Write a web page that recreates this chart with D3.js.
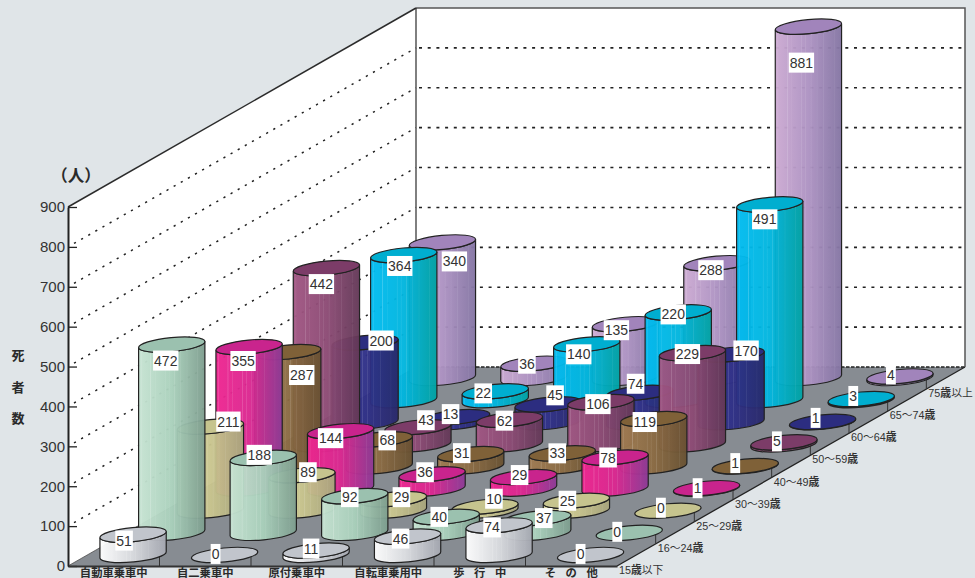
<!DOCTYPE html>
<html lang="ja"><head><meta charset="utf-8">
<script src="https://cdn.jsdelivr.net/npm/d3@7"></script>
<style>
html,body{margin:0;padding:0;background:#e0e5e8;overflow:hidden}
svg{display:block}
text{font-family:"Liberation Sans","Noto Sans CJK JP",sans-serif}
.cjk{font-family:"Noto Sans CJK JP",sans-serif;font-weight:700;fill:#2a2a2a}
.age{font-family:"Liberation Sans","Noto Sans CJK JP",sans-serif;fill:#333}
.age tspan{font-family:"Noto Sans CJK JP",sans-serif;font-weight:700}
</style></head><body>
<svg id="chart" width="975" height="578"></svg>
<script>
// ---- data ----
const categories = ["自動車乗車中","自二乗車中","原付乗車中","自転車乗用中","歩 行 中","そ の 他"];
const ageGroups = ["15歳以下","16\uFF5E24歳","25\uFF5E29歳","30\uFF5E39歳","40\uFF5E49歳","50\uFF5E59歳","60\uFF5E64歳","65\uFF5E74歳","75歳以上"];
const carOccupant   = [51,472,211,355,287,442,200,364,340];
const motorcycle    = [0,188,89,144,68,43,13,22,36];
const moped         = [11,92,29,36,31,62,45,140,135];
const bicycle       = [46,40,10,29,33,106,74,220,288];
const pedestrian    = [74,37,25,78,119,229,170,491,881];
const otherMode     = [0,0,0,1,1,5,1,3,4];
const valueTicks    = [0,100,200,300,400,500,600,700,800,900];
const seriesByCategory = [carOccupant,motorcycle,moped,bicycle,pedestrian,otherMode];

// ---- style: per age group [top, side-left, side-mid, side-right] ----
const palette = [
 ["#c1c5cc","#ffffff","#d9dbdf","#a4a7b0"],
 ["#9bc1af","#c6e3d2","#a9d0bb","#7d9d8e"],
 ["#c6c48e","#dcd9a2","#c9c58e","#a8a57c"],
 ["#c9248d","#ee2590","#db2790","#8c3a96"],
 ["#7f6138","#a07c52","#8b6b43","#685131"],
 ["#7c3c68","#a05582","#8c4a74","#633857"],
 ["#2c2d80","#32358c","#2f3088","#28286a"],
 ["#00aed0","#00bbf0","#00b5de","#00a2a2"],
 ["#a184bb","#ccaad2","#ad92c2","#8475a3"]
];
// label box offsets from each cylinder's top centre (dx,dy), by category then age group
const labelNudges = [
 [[-9,6],[-6,16],[18,-5],[-6,14],[14,23],[-5,16],[16,-2],[-4,11],[12,19]],
 [[-9,-1],[-4,-3],[6,-3],[-10,7],[8,1],[8,-7],[-6,-3],[-12,2],[-7,0]],
 [[-5,-2],[-5,1],[8,-2],[-7,-2],[-9,-1],[-5,1],[7,-9],[-8,10],[-9,6]],
 [[-7,2],[-7,0],[9,-8],[-4,-2],[-5,0],[-3,2],[-4,-9],[-5,2],[-6,7]],
 [[-7,2],[6,0],[-9,0],[-7,0],[-9,3],[-5,1],[15,-4],[-5,15],[-7,36]],
 [[-10,-1],[-12,-1],[-7,-3],[-9,0],[-10,-3],[-7,-1],[-7,-4],[-8,-3],[-9,-2]]
];

// ---- geometry ----
const originX=68, originY=566, floorW=549, depthX=348, depthY=199, wallH=359;
const x = d3.scaleBand().domain(d3.range(categories.length)).range([originX,originX+floorW]);
const depth = d3.scaleBand().domain(d3.range(ageGroups.length)).range([0,depthX]);
const dyOf = dx => -dx*depthY/depthX;
const h = d3.scaleLinear().domain([0,900]).range([0,wallH]);
const y = d3.scaleLinear().domain([0,900]).range([originY,originY-wallH]);

const RX=33.3, RY=7, ROT=-5.5;
const cosR=Math.cos(ROT*Math.PI/180), sinR=Math.sin(ROT*Math.PI/180);
const tipX=RX*cosR, tipY=RX*sinR;

const svg=d3.select("#chart");
const defs=svg.append("defs");
palette.forEach((p,i)=>{
  const g=defs.append("linearGradient").attr("id","side"+i);
  [[0,p[1]],[.5,p[2]],[1,p[3]]].forEach(s=>g.append("stop").attr("offset",s[0]).attr("stop-color",s[1]));
});
// fine vertical stripes laid over each side
const stripeStops=[[.03,.0],[.04,.14],[.05,0],[.17,0],[.18,.2],[.195,0],[.24,0],[.25,.1],[.26,0],[.39,0],[.4,.16],[.41,0],[.45,0],[.46,.13],[.47,0],[.53,0],[.54,.14],[.55,0],[.62,0],[.63,.08],[.64,0],[.72,0],[.73,.09],[.74,0],[.88,0],[.89,.07],[.9,0]];
const st=defs.append("linearGradient").attr("id","stripes");
stripeStops.forEach(s=>st.append("stop").attr("offset",s[0]).attr("stop-color","#fff").attr("stop-opacity",s[1]));

// background + walls + floor
const bx=originX+depthX, by=originY-depthY;
svg.append("polygon").attr("points",[[originX,originY],[originX+floorW,originY],[bx+floorW,by],[bx,by]].join(" ")).attr("fill","#878c92");
svg.append("polygon").attr("points",[[originX,y(900)],[bx,y(900)+dyOf(depthX)],[bx,by],[originX,originY]].join(" ")).attr("fill","#fff");
svg.append("rect").attr("x",bx).attr("y",by-wallH).attr("width",floorW).attr("height",wallH).attr("fill","#fff");

// dotted grid lines on both walls
const grid=svg.append("g").attr("fill","none").attr("stroke","#222");
valueTicks.filter(v=>v>0&&v<900).forEach(v=>{
  grid.append("line").attr("x1",originX+6).attr("y1",y(v)+dyOf(6)).attr("x2",bx).attr("y2",y(v)+dyOf(depthX))
    .attr("stroke-width",1.5).attr("stroke-dasharray","2.2 6");
  grid.append("line").attr("x1",bx+3).attr("y1",y(v)+dyOf(depthX)).attr("x2",bx+floorW-2).attr("y2",y(v)+dyOf(depthX))
    .attr("stroke-width",1.6).attr("stroke-dasharray","3 5.7");
});
grid.append("line").attr("x1",bx).attr("y1",by).attr("x2",bx+floorW).attr("y2",by).attr("stroke-width",1.5).attr("stroke-dasharray","3.5 1.5");

// wall outlines
const frame=svg.append("g").attr("fill","none").attr("stroke","#2b2b2b");
frame.append("polyline").attr("points",[[bx+floorW,by],[bx+floorW,by-wallH],[bx,by-wallH]].join(" ")).attr("stroke","#555").attr("stroke-width",1.5);
frame.append("line").attr("x1",bx).attr("y1",by-wallH).attr("x2",bx).attr("y2",by).attr("stroke-width",1.2);
frame.append("line").attr("x1",originX).attr("y1",y(900)).attr("x2",bx).attr("y2",by-wallH).attr("stroke-width",1.5);
frame.append("line").attr("x1",originX+floorW).attr("y1",originY).attr("x2",bx+floorW).attr("y2",by).attr("stroke-width",1.3).attr("stroke","#222");
frame.append("line").attr("x1",originX).attr("y1",originY).attr("x2",bx).attr("y2",by).attr("stroke-width",.8).attr("stroke","#444");

// floor boundary ticks
const tickG=svg.append("g").attr("stroke","#333").attr("stroke-width",1);
d3.range(1,categories.length).forEach(c=>{
  const px=x(c);
  tickG.append("line").attr("x1",px).attr("x2",px).attr("y1",originY).attr("y2",originY-9.5);
});
d3.range(1,ageGroups.length).forEach(r=>{
  const px=originX+floorW+depth(r), py=originY+dyOf(depth(r));
  tickG.append("line").attr("x1",px).attr("x2",px).attr("y1",py).attr("y2",py-9.5);
});

// cylinders, back to front
const cells=[];
d3.range(ageGroups.length).reverse().forEach(r=>{
  categories.forEach((_,c)=>cells.push({c,r,v:seriesByCategory[c][r]}));
});
cells.forEach(d=>{
  d.off=depth(d.r)+depth.bandwidth()/2;
  d.cx=x(d.c)+x.bandwidth()/2+d.off;
  d.base=originY+dyOf(d.off);
  d.top=d.base-h(d.v);
});
const cyl=svg.append("g").selectAll("g").data(cells).join("g");
cyl.filter(d=>d.v>0).each(function(d){
  const s=d3.select(this);
  const body=`M${d.cx-tipX},${d.top-tipY}L${d.cx-tipX},${d.base-tipY}A${RX},${RY} ${ROT} 0 0 ${d.cx+tipX},${d.base+tipY}L${d.cx+tipX},${d.top+tipY}A${RX},${RY} ${ROT} 0 1 ${d.cx-tipX},${d.top-tipY}Z`;
  s.append("path").attr("d",body).attr("fill",`url(#side${d.r})`).attr("fill-opacity",.96);
  s.append("path").attr("d",body).attr("fill","url(#stripes)");
  s.append("path").attr("d",body).attr("fill","none").attr("stroke","#222").attr("stroke-width",1.2);
});
cyl.append("ellipse")
  .attr("cx",0).attr("cy",0).attr("rx",RX).attr("ry",RY)
  .attr("transform",d=>`translate(${d.cx},${d.top}) rotate(${ROT})`)
  .attr("fill",d=>palette[d.r][0]).attr("stroke","#222").attr("stroke-width",1.2);

// value labels with white boxes
const labels=svg.append("g").selectAll("g").data(cells).join("g")
  .attr("transform",d=>{const n=labelNudges[d.c][d.r];return `translate(${d.cx+n[0]},${d.top+n[1]})`;});
const lt=labels.append("text").text(d=>d.v).attr("text-anchor","middle").attr("dy","0.36em")
  .attr("font-size",14).attr("fill","#333");
labels.each(function(){
  const t=d3.select(this).select("text"), w=t.node().getComputedTextLength()+2;
  d3.select(this).insert("rect","text").attr("x",-w/2).attr("y",-10).attr("width",w).attr("height",20).attr("fill","#fff");
});

// value axis
const axisY=svg.append("g").attr("transform",`translate(${originX},0)`)
  .call(d3.axisLeft(y).tickValues(valueTicks).tickFormat(d3.format("d")).tickSizeInner(-9).tickSizeOuter(0).tickPadding(4));
axisY.select(".domain").attr("stroke","#222").attr("stroke-width",2);
axisY.selectAll(".tick line").attr("stroke","#222").attr("stroke-width",1.3);
axisY.selectAll(".tick text").attr("font-size",15).attr("fill","#333").attr("font-family","Liberation Sans").attr("x",-3);

// category axis
const axisX=svg.append("g").attr("transform",`translate(0,${originY})`)
  .call(d3.axisBottom(x).tickFormat(i=>categories[i]).tickSize(0).tickPadding(0));
axisX.select(".domain").attr("stroke","#333").attr("stroke-width",1.8);
axisX.selectAll(".tick text").attr("class","cjk").attr("font-size",11.3).attr("dy",0).attr("y",10.5)
  .style("white-space","pre").style("word-spacing","7px");

// age group axis labels along the floor's right edge
svg.append("g").selectAll("text").data(ageGroups).join("text")
  .attr("class","age")
  .attr("x",(d,i)=>originX+floorW+2+depth(i))
  .attr("y",(d,i)=>originY+8+dyOf(depth(i)))
  .attr("font-size",10.8)
  .html(d=>d.replace("歳","<tspan>歳</tspan>"));

// titles
svg.append("text").text("\uFF08人\uFF09").attr("class","cjk").attr("x",76).attr("y",182).attr("text-anchor","middle").attr("font-size",16.5);
const yTitle=["死","者","数"];
svg.append("g").selectAll("text").data(yTitle).join("text").text(d=>d).attr("class","cjk")
  .attr("x",18).attr("y",(d,i)=>360+i*31.5).attr("text-anchor","middle").attr("font-size",13);
</script>
</body></html>
